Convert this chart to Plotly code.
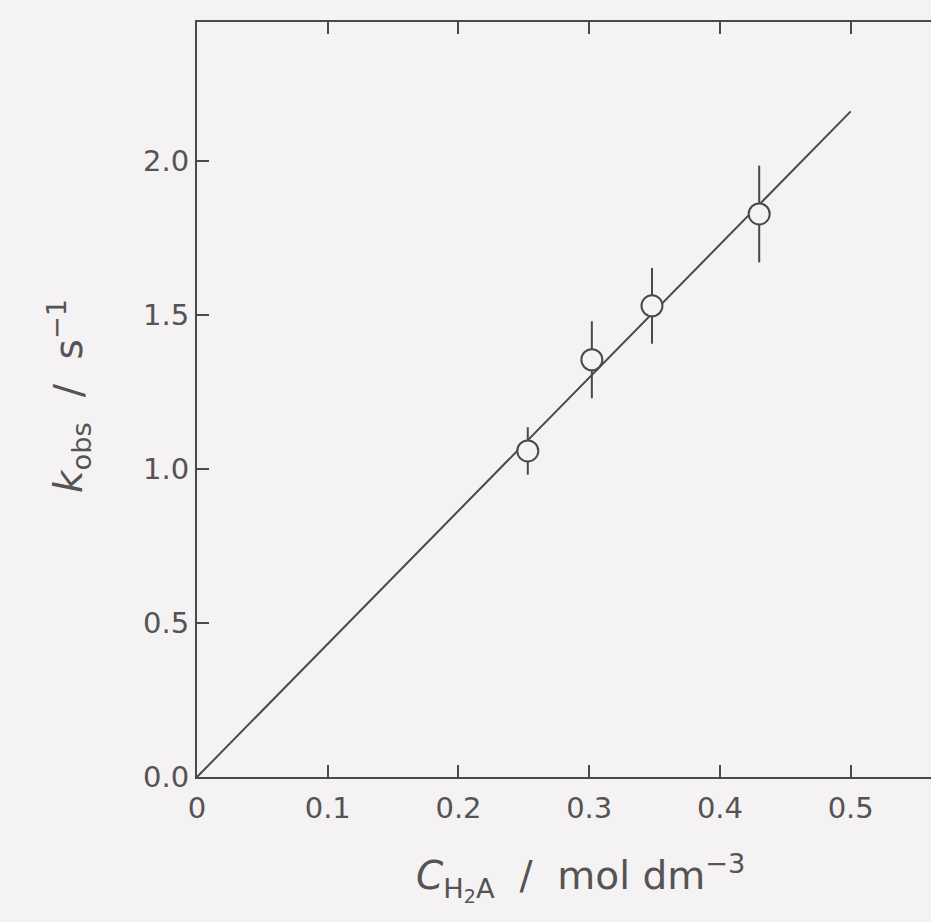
import plotly.graph_objects as go

# Data
conc = [0.253, 0.302, 0.348, 0.430]          # C_H2A / mol dm^-3
kobs = [1.058, 1.354, 1.529, 1.827]          # k_obs / s^-1
kerr = [0.077, 0.125, 0.123, 0.157]          # error bar half-widths
fit_x = [0.0, 0.5]
fit_y = [0.0, 2.16]

x_ticks = [0, 0.1, 0.2, 0.3, 0.4, 0.5]
x_ticktext = ["0", "0.1", "0.2", "0.3", "0.4", "0.5"]
y_ticks = [0.0, 0.5, 1.0, 1.5, 2.0]
y_ticktext = ["0.0", "0.5", "1.0", "1.5", "2.0"]

x_title = "<i>C</i><sub>H<sub>2</sub>A</sub>  /  mol dm<sup>−3</sup>"
y_title = "<i>k</i><sub>obs</sub>  /  s<sup>−1</sup>"

BG = "#f4f2f2"
INK = "#4a4848"
TXT = "#555353"
FONT = "DejaVu Sans, Liberation Sans, sans-serif"

fig = go.Figure()
fig.add_trace(go.Scatter(
    x=fit_x, y=fit_y, mode="lines",
    line=dict(color=INK, width=2), showlegend=False, hoverinfo="skip"))
fig.add_trace(go.Scatter(
    x=conc, y=kobs, mode="markers",
    marker=dict(symbol="circle", size=21, color=BG,
                line=dict(color=INK, width=2)),
    error_y=dict(type="data", array=kerr, visible=True,
                 color=INK, thickness=2, width=0),
    showlegend=False))

fig.update_layout(
    width=931, height=922,
    paper_bgcolor=BG, plot_bgcolor=BG,
    margin=dict(l=197, r=0, t=22, b=145, autoexpand=False),
    font=dict(family=FONT, color=TXT, size=29),
    xaxis=dict(
        range=[0, 0.5614], tickvals=x_ticks, ticktext=x_ticktext,
        ticks="inside", ticklen=12, tickwidth=2, tickcolor=INK,
        showline=True, linecolor=INK, linewidth=2, mirror="ticks",
        showgrid=False, zeroline=False, ticklabelstandoff=4,
        tickfont=dict(size=29, color=TXT),
    ),
    yaxis=dict(
        range=[0, 2.45], tickvals=y_ticks, ticktext=y_ticktext,
        ticks="inside", ticklen=12, tickwidth=2, tickcolor=INK,
        showline=True, linecolor=INK, linewidth=2, mirror=False,
        showgrid=False, zeroline=False,
        tickfont=dict(size=29, color=TXT),
    ),
    annotations=[
        dict(text=x_title, xref="paper", yref="paper",
             x=(580 - 197) / 734, y=(777 - 878) / 755,
             xanchor="center", yanchor="middle", showarrow=False,
             font=dict(size=39, color=TXT)),
        dict(text=y_title, xref="paper", yref="paper",
             x=(69 - 197) / 734, y=(777 - 396) / 755,
             xanchor="center", yanchor="middle", showarrow=False,
             textangle=-90, font=dict(size=39, color=TXT)),
    ],
)

fig.write_html("out.html")
